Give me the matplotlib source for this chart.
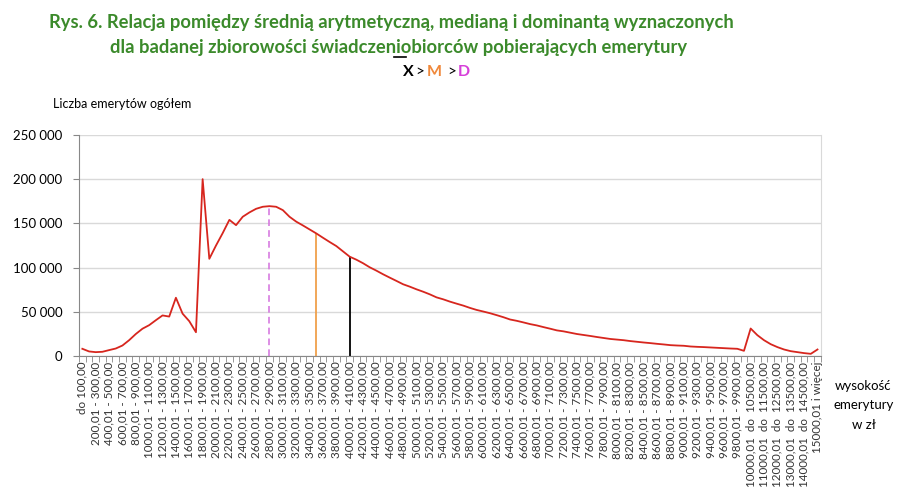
import numpy as np
import matplotlib.pyplot as plt
from matplotlib.lines import Line2D

plt.rcParams["font.family"] = ["Lato", "DejaVu Sans"]

# pension brackets: 100 zł wide up to 10 000, then 500 zł wide, then open
bin_low = list(range(0, 10000, 100)) + list(range(10000, 15000, 500)) + [15000]
bin_high = list(range(100, 10100, 100)) + list(range(10500, 15500, 500)) + [None]

# number of pensioners per bracket
counts = [
    8300, 5300, 4500, 4900, 6800, 8600, 12000, 18000, 25000, 31000,
    35000, 40600, 46000, 44700, 66000, 48000, 39500, 27000, 200000, 110000,
    125000, 139000, 154000, 148000, 157500, 162400, 166500, 168800, 169500, 168800,
    165000, 157500, 152000, 147700, 143200, 138700, 133800, 129000, 124400, 118400,
    112400, 109000, 105000, 100400, 96600, 92500, 88700, 85000, 81200, 78500,
    75500, 72800, 69800, 66400, 64200, 61600, 59300, 57100, 54500, 52200,
    50400, 48500, 46300, 44000, 41400, 39900, 38100, 36200, 34700, 32800,
    31000, 29100, 28000, 26500, 25000, 23900, 22800, 21600, 20500, 19400,
    18700, 18000, 17000, 16200, 15400, 14700, 13900, 13200, 12400, 12000,
    11700, 10900, 10500, 10200, 9800, 9400, 9000, 8600, 8300, 6000,
    31200, 23700, 18000, 13500, 10200, 7500, 5600, 4500, 3400, 2600,
    7500,
]

# bracket index of dominant, median and mean
dominant_idx = 28
median_idx = 35
mean_idx = 40


def bracket_label(lo, hi):
    if lo == 0:
        return "do %d,00" % hi
    if hi is None:
        return "%d,01 i więcej" % lo
    if lo >= 10000:
        return "%d,01  do  %d,00" % (lo, hi)
    return "%d,01 - %d,00" % (lo, hi)


labels = [bracket_label(lo, hi) for lo, hi in zip(bin_low, bin_high)]

fig = plt.figure(figsize=(9.08, 4.96), dpi=100)
ax = fig.add_axes([0.087, 0.282, 0.817, 0.446])

x = np.arange(len(counts))
ax.plot(x, counts, color="#d7261e", lw=1.3, zorder=3)

ax.vlines(dominant_idx, 0, counts[dominant_idx], color="#d77be0", lw=1.2,
          linestyles=(0, (4, 2.5)), zorder=2)
ax.vlines(median_idx, 0, counts[median_idx], color="#f0a04b", lw=1.3, zorder=2)
ax.vlines(mean_idx, 0, counts[mean_idx], color="black", lw=1.3, zorder=2)

ax.set_xlim(-0.5, len(counts) - 0.5)
ax.set_ylim(0, 250000)
ax.set_yticks(np.arange(0, 250001, 50000))
ax.set_yticklabels(["0" if v == 0 else "{:,}".format(v).replace(",", " ")
                    for v in range(0, 250001, 50000)], fontsize=9.5)
ax.yaxis.grid(True, color="#d9d9d9", lw=1)
ax.set_axisbelow(True)

ax.set_xticks(x[::2])
ax.set_xticklabels(labels[::2], rotation=90, fontsize=8.4, color="#333333")
ax.set_xticks(np.arange(-0.5, len(counts)), minor=True)
ax.tick_params(axis="x", which="major", length=0, pad=4)
ax.tick_params(axis="x", which="minor", length=4, color="#888888")
ax.tick_params(axis="y", length=4, color="#888888", pad=8)

for side in ["left", "bottom"]:
    ax.spines[side].set_color("#888888")
ax.spines["top"].set_visible(False)
ax.spines["right"].set_color("#d9d9d9")

fig.text(0.135, 0.783, "Liczba emerytów ogółem", fontsize=9, ha="center")
fig.text(0.951, 0.183, "wysokość\nemerytury\nw zł", fontsize=9.5, ha="center",
         va="center", linespacing=1.75)

green = "#3b8a2b"
fig.text(0.4306, 0.955, "Rys. 6. Relacja pomiędzy średnią arytmetyczną, medianą i dominantą wyznaczonych",
         fontsize=13.2, fontweight="bold", color=green, ha="center", va="center")
fig.text(0.439, 0.905, "dla badanej zbiorowości świadczeniobiorców pobierających emerytury",
         fontsize=13.2, fontweight="bold", color=green, ha="center", va="center")

fig.text(0.4435, 0.855, "X", fontsize=11.5, fontweight="bold", ha="left", va="center")
fig.text(0.4575, 0.855, ">", fontsize=11, ha="left", va="center")
fig.text(0.4705, 0.855, "M", fontsize=11.5, fontweight="bold", color="#f0883a", ha="left", va="center")
fig.text(0.4925, 0.855, ">", fontsize=11, ha="left", va="center")
fig.text(0.5045, 0.855, "D", fontsize=11.5, fontweight="bold", color="#d63fd9", ha="left", va="center")
fig.add_artist(Line2D([0.4335, 0.447], [0.885, 0.885], color="black", lw=1.2))

fig.savefig("out.png", dpi=100)
